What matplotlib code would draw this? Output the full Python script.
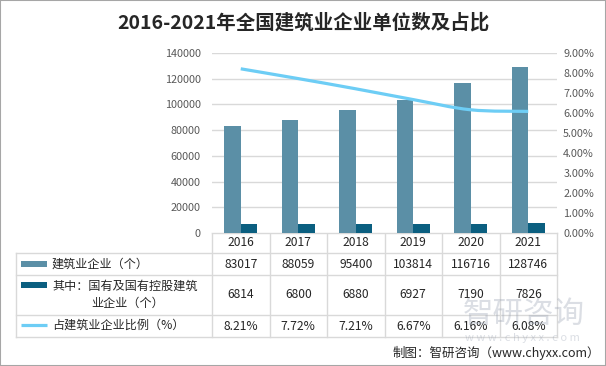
import matplotlib
matplotlib.use("Agg")
import matplotlib.pyplot as plt
import matplotlib.transforms as mtransforms
from matplotlib.path import Path
from matplotlib.patches import PathPatch, Rectangle
from matplotlib.ticker import FuncFormatter, MultipleLocator

plt.rcParams['font.family'] = ['Noto Sans CJK SC', 'DejaVu Sans']

# ---------------- data ----------------
years = ["2016", "2017", "2018", "2019", "2020", "2021"]
total_firms = [83017, 88059, 95400, 103814, 116716, 128746]
state_firms = [6814, 6800, 6880, 6927, 7190, 7826]
state_share = [8.21, 7.72, 7.21, 6.67, 6.16, 6.08]  # percent

series_names = ["建筑业企业（个）", "其中：国有及国有控股建筑\n业企业（个）", "占建筑业企业比例（%）"]
title = "2016-2021年全国建筑业企业单位数及占比"
source = "制图：智研咨询（www.chyxx.com）"

# ---------------- style ----------------
c_total = "#5B8FA6"
c_state = "#0B5F80"
c_line = "#6DCDF5"
c_grid = "#D9D9D9"
c_tick = "#595959"
c_text = "#262626"

W, H = 606, 366
fig = plt.figure(figsize=(W / 100, H / 100), dpi=100)

# pixel helpers
def fx(px):
    return px / W

def fy(py):
    return 1 - py / H

ax_l, ax_r, ax_t, ax_b = 212, 557, 53, 233
ax = fig.add_axes([fx(ax_l), fy(ax_b), (ax_r - ax_l) / W, (ax_b - ax_t) / H])
ax2 = ax.twinx()

n = len(years)
xs = list(range(n))
bw = 0.29
ax.bar([x - bw / 2 for x in xs], total_firms, width=bw, color=c_total, zorder=3)
ax.bar([x + bw / 2 for x in xs], state_firms, width=bw, color=c_state, zorder=3)
ax.set_xlim(-0.5, n - 0.5)
ax.set_ylim(0, 140000)
ax.yaxis.set_major_locator(MultipleLocator(20000))
ax.grid(axis='y', color=c_grid, linewidth=1.0, zorder=0)
ax.set_axisbelow(True)
ax.set_xticks([])
ax.tick_params(axis='y', length=0, pad=8, labelsize=7.8, labelcolor=c_tick)
for s in ax.spines.values():
    s.set_visible(False)

# smoothed line (Excel-like smoothing through data points)
ys = [v / 100 for v in state_share]
verts = [(xs[0], ys[0])]
codes = [Path.MOVETO]
for i in range(n - 1):
    p0 = (xs[i - 1], ys[i - 1]) if i > 0 else (xs[i], ys[i])
    p1 = (xs[i], ys[i])
    p2 = (xs[i + 1], ys[i + 1])
    p3 = (xs[i + 2], ys[i + 2]) if i + 2 < n else p2
    c1 = (p1[0] + (p2[0] - p0[0]) / 6, p1[1] + (p2[1] - p0[1]) / 6)
    c2 = (p2[0] - (p3[0] - p1[0]) / 6, p2[1] - (p3[1] - p1[1]) / 6)
    verts += [c1, c2, p2]
    codes += [Path.CURVE4] * 3
ax2.add_patch(PathPatch(Path(verts, codes), facecolor='none', edgecolor=c_line,
                        linewidth=2.3, capstyle='butt', zorder=4))
ax2.set_ylim(0, 0.09)
ax2.yaxis.set_major_locator(MultipleLocator(0.01))
ax2.yaxis.set_major_formatter(FuncFormatter(lambda v, p: f"{v * 100:.2f}%"))
ax2.tick_params(axis='y', length=0, pad=4.5, labelsize=7.8, labelcolor=c_tick)
for s in ax2.spines.values():
    s.set_visible(False)

# ---------------- data table ----------------
ov = fig.add_axes([0, 0, 1, 1], zorder=-1)
ov.set_xlim(0, W)
ov.set_ylim(H, 0)
ov.axis('off')
bt = mtransforms.blended_transform_factory(ax.transData, ov.transData)

tab_left = 16
rows = [233, 253, 275, 315, 337]
lw = 1.0
# horizontal lines
ov.plot([ax_l, ax_r], [rows[0], rows[0]], color=c_grid, lw=lw)
for r in rows[1:]:
    ov.plot([tab_left, ax_r], [r, r], color=c_grid, lw=lw)
# vertical lines
ov.plot([tab_left, tab_left], [rows[1], rows[-1]], color=c_grid, lw=lw)
for k in range(n + 1):
    ov.plot([k - 0.5, k - 0.5], [rows[0], rows[-1]], color=c_grid, lw=lw, transform=bt)

fs = 8.7
row_mid = [(rows[i] + rows[i + 1]) / 2 for i in range(4)]
for i, yl in enumerate(years):
    ov.text(i, row_mid[0], yl, transform=bt, ha='center', va='center', fontsize=fs, color=c_text)
    ov.text(i, row_mid[1], f"{total_firms[i]}", transform=bt, ha='center', va='center', fontsize=fs, color=c_text)
    ov.text(i, row_mid[2], f"{state_firms[i]}", transform=bt, ha='center', va='center', fontsize=fs, color=c_text)
    ov.text(i, row_mid[3], f"{state_share[i]:.2f}%", transform=bt, ha='center', va='center', fontsize=fs, color=c_text)

# legend swatches + labels
sw_x0, sw_x1 = 21, 47
ov.add_patch(Rectangle((sw_x0, 261), sw_x1 - sw_x0, 6, color=c_total, lw=0))
ov.add_patch(Rectangle((sw_x0, 282), sw_x1 - sw_x0, 6, color=c_state, lw=0))
ov.plot([sw_x0, sw_x1], [324.5, 324.5], color=c_line, lw=2.3, solid_capstyle='butt')

lab1, lab2, lab3 = series_names
ov.text(52, row_mid[1], lab1, ha='left', va='center', fontsize=fs, color=c_text)
l2a, l2b = lab2.split("\n")
ov.text(52, 286.5, l2a, ha='left', va='center', fontsize=fs, color=c_text)
ov.text(91.5, 303.5, l2b, ha='left', va='center', fontsize=fs, color=c_text)
ov.text(52, row_mid[3] - 1, lab3, ha='left', va='center', fontsize=fs, color=c_text)

# watermark
ov.text(524, 314, "智研咨询", ha='center', va='center', fontsize=22, color='#9aa3b3', alpha=0.35)
ov.text(522, 338, "w w w . c h y x x . c o m", ha='center', va='center', fontsize=8, color='#9aa3b3', alpha=0.35)

# title & source
fig.text(fx(303), fy(23), title, ha='center', va='center', fontsize=14, fontweight='bold', color=c_text)
fig.text(fx(600), fy(353), source, ha='right', va='center', fontsize=9, color=c_text)

# border
fig.add_artist(Rectangle((0, 0), 1, 1, transform=fig.transFigure, fill=False,
                         edgecolor='#A6A6A6', lw=1.5))

fig.savefig("out.png", dpi=100)
